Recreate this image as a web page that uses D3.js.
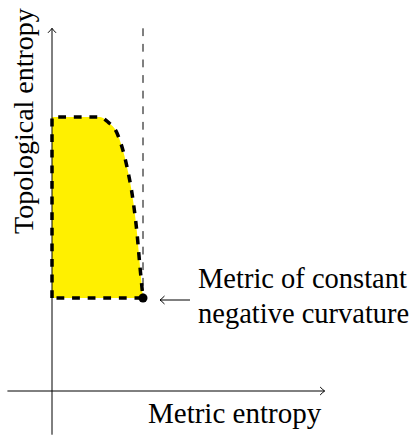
<!DOCTYPE html>
<html>
<head>
<meta charset="utf-8">
<script src="https://d3js.org/d3.v7.min.js"></script>
</head>
<body style="margin:0">
<script>
// region of attainable (metric, topological) entropy pairs, upper boundary
var boundaryX = [0, 0.527, 0.615, 0.714, 0.824, 0.890, 0.934, 0.967, 1];
var boundaryY = [2.946, 2.946, 2.892, 2.774, 2.409, 2.054, 1.699, 1.333, 1];
var floorY = 1;          // topological entropy of the constant curvature metric
var limitX = 1;          // metric entropy of the constant curvature metric
var xExtent = [-0.49, 2.996];
var yExtent = [-0.47, 3.9];
var xLabel = "Metric entropy";
var yLabel = "Topological entropy";
var noteLines = ["Metric of constant", "negative curvature"];

var width = 413, height = 437, fs = 29, fam = "'Liberation Serif'";

var svg = d3.select("body").append("svg")
  .attr("width", width)
  .attr("height", height);

var x = d3.scaleLinear().domain([0, 1]).range([52, 143]);
var y = d3.scaleLinear().domain([0, 1]).range([391, 298]);

// little "to" style arrow tip, pointing in direction angle (deg)
function tip(px, py, angle) {
  svg.append("path")
    .attr("d", "M-4.5,-4 Q-1.5,-1 0,0 Q-1.5,1 -4.5,4")
    .attr("fill", "none")
    .attr("stroke", "#000")
    .attr("stroke-width", 1)
    .attr("transform", "translate(" + px + "," + py + ")rotate(" + angle + ")");
}

// shape of the region
var pts = boundaryX.map(function(d, i) { return [d, boundaryY[i]]; });
var curve = d3.line()
  .x(function(d) { return x(d[0]); })
  .y(function(d) { return y(d[1]); })
  .curve(d3.curveMonotoneX);
var shape = "M" + x(0) + "," + y(floorY) + curve(pts).replace(/^M/, "L") + "Z";

svg.append("path")
  .attr("d", shape)
  .attr("fill", "#fff000")
  .attr("stroke", "none");

// vertical asymptote
svg.append("line")
  .attr("x1", x(limitX)).attr("x2", x(limitX))
  .attr("y1", y(yExtent[1])).attr("y2", y(floorY))
  .attr("stroke", "#000")
  .attr("stroke-width", 1)
  .attr("stroke-dasharray", "7.8,7.8");

// axes
svg.append("line")
  .attr("x1", x(xExtent[0])).attr("x2", x(xExtent[1]))
  .attr("y1", y(0)).attr("y2", y(0))
  .attr("stroke", "#000").attr("stroke-width", 1);
tip(x(xExtent[1]), y(0), 0);

svg.append("line")
  .attr("x1", x(0)).attr("x2", x(0))
  .attr("y1", y(yExtent[0])).attr("y2", y(yExtent[1]))
  .attr("stroke", "#000").attr("stroke-width", 1);
tip(x(0), y(yExtent[1]), -90);

// boundary
svg.append("path")
  .attr("d", shape)
  .attr("fill", "none")
  .attr("stroke", "#000")
  .attr("stroke-width", 3.5)
  .attr("stroke-dasharray", "7.8,7.8");

svg.append("circle")
  .attr("cx", x(limitX))
  .attr("cy", y(floorY))
  .attr("r", 4.5)
  .attr("fill", "#000");

// annotation
svg.append("line")
  .attr("x1", 160).attr("x2", 190)
  .attr("y1", 300).attr("y2", 300)
  .attr("stroke", "#000").attr("stroke-width", 1);
tip(160, 300, 180);

svg.selectAll("text.note")
  .data(noteLines)
  .enter().append("text")
  .attr("class", "note")
  .attr("x", 198)
  .attr("y", function(d, i) { return 288 + i * 35; })
  .attr("font-family", fam)
  .attr("font-size", 28.5)
  .text(function(d) { return d; });

svg.append("text")
  .attr("x", 148)
  .attr("y", 423)
  .attr("font-family", fam)
  .attr("font-size", fs)
  .text(xLabel);

svg.append("text")
  .attr("transform", "translate(33,234)rotate(-90)")
  .attr("font-family", fam)
  .attr("font-size", 28)
  .text(yLabel);
</script>
</body>
</html>
